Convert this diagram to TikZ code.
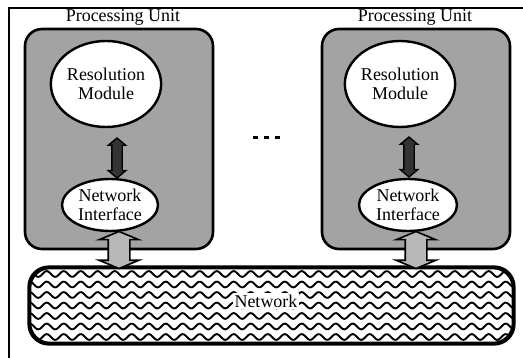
\documentclass[tikz,border=0pt]{standalone}
\usepackage{fontspec}
\setmainfont{Liberation Serif}
\usepackage{tikz}
\usetikzlibrary{shapes.geometric,shapes.arrows}
\tikzstyle{Frame}=[line width=1.8pt]
\tikzstyle{UnitBox}=[draw,line width=2.6pt,rounded corners=17pt,fill=black!36,inner sep=0pt]
\tikzstyle{UnitLabel}=[font=\fontsize{18}{20}\selectfont,inner sep=1pt]
\tikzstyle{Blob}=[ellipse,draw,line width=2.4pt,fill=white,inner sep=0pt,align=center,
font=\fontsize{18}{19}\selectfont]
\tikzstyle{LinkUp}=[double arrow,draw,line width=1.4pt,fill=black!80,rotate=90,inner xsep=0pt,
inner ysep=4.5pt,minimum height=40pt,double arrow head extend=3.5pt,double arrow tip angle=100]
\tikzstyle{LinkDown}=[double arrow,draw,line width=1.6pt,fill=black!28,rotate=90,inner xsep=0pt,
inner ysep=10pt,minimum height=37pt,double arrow head extend=9pt,double arrow tip angle=135]
\tikzstyle{NetBand}=[draw,line width=2.6pt,rounded corners=20pt,inner sep=0pt,
minimum width=483pt,minimum height=75pt]
\tikzstyle{Wave}=[line width=1.9pt,line cap=round]

\begin{document}
\begin{tikzpicture}[x=1pt,y=-1pt]
    \useasboundingbox (0,0) rectangle (523,358);
    \draw[Frame] (9,360) -- (9,8) -- (525,8);
    % processing units
    \node[UnitBox,minimum width=188pt,minimum height=220pt](pu1)at(119,139){};
    \node[UnitBox,minimum width=188pt,minimum height=220pt](pu2)at(416,139){};
    \node[UnitLabel](pl1)at(123,17){Processing Unit};
    \node[UnitLabel](pl2)at(415,17){Processing Unit};
    \node[Blob,minimum width=80pt,minimum height=86pt](rm1)at(106,84){Resolution\\Module};
    \node[Blob,minimum width=84pt,minimum height=86pt](rm2)at(400,84){Resolution\\Module};
    \node[Blob,minimum width=96pt,minimum height=52pt](ni1)at(110,205){Network\\Interface};
    \node[Blob,minimum width=98pt,minimum height=52pt](ni2)at(408,205){Network\\Interface};
    \node[LinkUp](ar1)at(117,158){};
    \node[LinkUp](ar2)at(409,157){};
    % the network, filled with waves
    \node[NetBand](net)at(271.5,305.5){};
    \begin{scope}
        \clip[rounded corners=20pt](net.north west)rectangle(net.south east);
        \foreach \r in {0,...,6}
            \draw[Wave]plot[domain=25:520,samples=300](\x,{274+10.5*\r+2.9*sin(\x/17*360)});
    \end{scope}
    \draw[NetBand](net.north west)rectangle(net.south east);
    \node[fill=white,inner sep=1.5pt,font=\fontsize{18}{20}\selectfont](nl)at(266,301){Network};
    \node[LinkDown](dn1)at(119,250){};
    \node[LinkDown](dn2)at(416,250){};
    \foreach \d in {255,266,277}
        \fill(\d-2.5,136.5) rectangle (\d+2.5,139.5);
\end{tikzpicture}
\end{document}
